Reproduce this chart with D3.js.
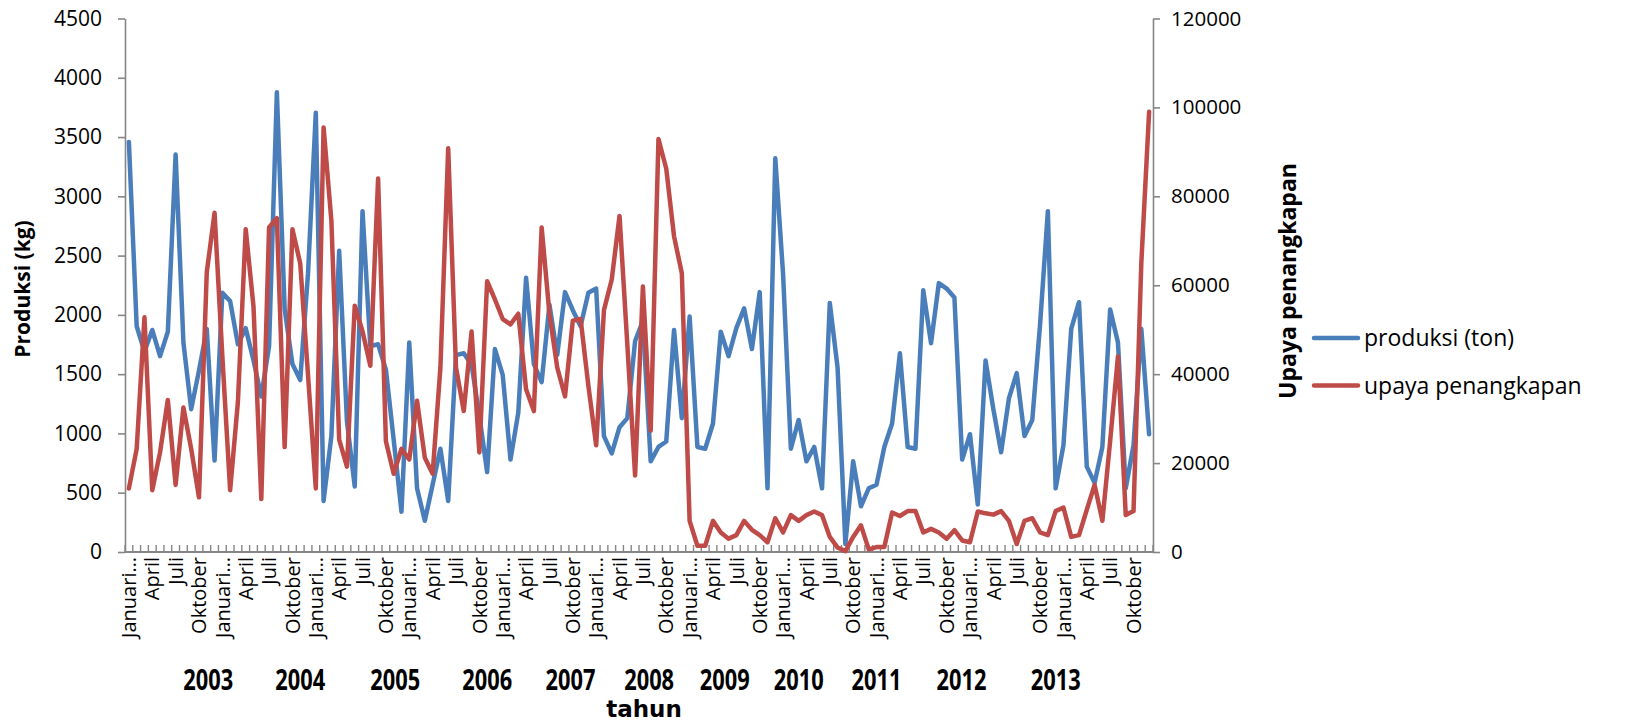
<!DOCTYPE html>
<html>
<head>
<meta charset="utf-8">
<script src="https://cdn.jsdelivr.net/npm/d3@7"></script>
<style>
  body { margin: 0; background: #fff; }
  svg { display: block; }
  text { font-family: "Open Sans", "Noto Sans", sans-serif; fill: #000; }
</style>
</head>
<body>
<svg id="chart" width="1625" height="723"></svg>
<script>
// Monthly series, January 2003 – December 2013
const years = [2003, 2004, 2005, 2006, 2007, 2008, 2009, 2010, 2011, 2012, 2013];
const quarterLabels = ["Januari…", "April", "Juli", "Oktober"];

const produksi = [
  3458, 1904, 1691, 1873, 1652, 1858, 3352, 1767, 1205, 1530, 1882, 771,
  2186, 2116, 1752, 1888, 1615, 1311, 1737, 3877, 2050, 1585, 1450, 2350,
  3705, 431, 978, 2541, 1100, 553, 2875, 1737, 1752, 1539, 947, 340,
  1767, 537, 264, 568, 871, 431, 1661, 1676, 1580, 1150, 674, 1712,
  1494, 780, 1175, 2313, 1585, 1433, 2086, 1661, 2192, 2040, 1904, 2186,
  2222, 978, 832, 1053, 1129, 1780, 1950, 765, 886, 932, 1873, 1129,
  1986, 886, 871, 1084, 1858, 1652, 1888, 2055, 1712, 2192, 537, 3321,
  2344, 871, 1114, 765, 886, 537, 2101, 1554, 67, 765, 386, 537,
  568, 886, 1084, 1676, 886, 871, 2207, 1761, 2268, 2222, 2146, 780,
  993, 401, 1615, 1205, 841, 1296, 1509, 978, 1114, 1919, 2875, 537,
  902, 1882, 2107, 720, 583, 886, 2046, 1767, 537, 902, 1882, 993
];

const upaya = [
  14300, 23200, 52800, 13900, 22400, 34200, 15100, 32500, 23200, 12300, 62900, 76300,
  44000, 13900, 33800, 72600, 55200, 11900, 73000, 75100, 23600, 72600, 64900, 39800,
  14300, 95500, 74500, 25300, 19200, 55400, 49600, 41900, 84000, 24900, 17600, 23200,
  20800, 34000, 21200, 17600, 41500, 90800, 41500, 31700, 49600, 22400, 60900, 56800,
  52400, 51200, 53600, 36600, 31700, 73000, 53600, 41500, 35000, 52000, 52400, 37400,
  24000, 54400, 61300, 75600, 46700, 17200, 59700, 27300, 92900, 86200, 71000, 62700,
  7000, 1400, 1400, 7000, 4400, 3000, 3800, 7000, 5000, 3800, 2200, 7600,
  4400, 8300, 7000, 8300, 9100, 8300, 3400, 1000, 200, 3400, 6000, 600,
  1100, 1100, 8900, 8100, 9200, 9200, 4400, 5200, 4400, 3000, 4900, 2600,
  2200, 9100, 8700, 8400, 9200, 7000, 1800, 7000, 7600, 4400, 3800, 9200,
  10000, 3400, 3800, 9500, 15100, 7000, 25000, 44000, 8300, 9200, 65000, 99000
];

const leftTicks = [0, 500, 1000, 1500, 2000, 2500, 3000, 3500, 4000, 4500];
const rightTicks = [0, 20000, 40000, 60000, 80000, 100000, 120000];

const seriesNames = ["produksi (ton)", "upaya penangkapan"];
const seriesColors = ["#4A7EBB", "#BE4B48"];

// ---- layout ----
const plot = { left: 125, right: 1153, top: 18.5, bottom: 552 };
const axisColor = "#868686";
// horizontal centre of each year caption, in month units from January 2003
const yearCaptionAt = [10.2, 22.0, 34.2, 46.0, 56.7, 66.8, 76.5, 86.0, 96.0, 106.9, 119.0];

const svg = d3.select("#chart");
const n = produksi.length;

const x = d3.scaleBand().domain(d3.range(n)).range([plot.left, plot.right]).padding(0);
const bw = x.bandwidth();
const cx = i => x(i) + bw / 2;

const yL = d3.scaleLinear().domain([0, 4500]).range([plot.bottom, plot.top]);
const yR = d3.scaleLinear().domain([0, 120000]).range([plot.bottom, plot.top]);

// ---- left value axis ----
const gL = svg.append("g")
  .attr("transform", `translate(${plot.left},0)`)
  .call(d3.axisLeft(yL).tickValues(leftTicks).tickSize(7).tickSizeOuter(0).tickPadding(16).tickFormat(d3.format("d")));
gL.select(".domain").attr("stroke", axisColor).attr("stroke-width", 1.6);
gL.selectAll(".tick line").attr("stroke", axisColor).attr("stroke-width", 1.6);
gL.selectAll(".tick text").attr("font-size", 21).attr("font-family", "Open Sans");

// ---- right value axis ----
const gR = svg.append("g")
  .attr("transform", `translate(${plot.right},0)`)
  .call(d3.axisRight(yR).tickValues(rightTicks).tickSize(7).tickSizeOuter(0).tickPadding(11).tickFormat(d3.format("d")));
gR.select(".domain").attr("stroke", axisColor).attr("stroke-width", 1.6);
gR.selectAll(".tick line").attr("stroke", axisColor).attr("stroke-width", 1.6);
gR.selectAll(".tick text").attr("font-size", 20.5).attr("font-family", "Open Sans");

// ---- category axis ----
const gX = svg.append("g");
gX.append("line")
  .attr("x1", plot.left).attr("x2", plot.right)
  .attr("y1", plot.bottom).attr("y2", plot.bottom)
  .attr("stroke", axisColor).attr("stroke-width", 1.8);

// tick marks sit between months and point up into the plot
const boundaries = d3.range(n + 1).map(i => (i < n ? x(i) : x(n - 1) + bw));
gX.selectAll("line.mt").data(boundaries).join("line")
  .attr("class", "mt")
  .attr("x1", d => d).attr("x2", d => d)
  .attr("y1", plot.bottom).attr("y2", plot.bottom - 7)
  .attr("stroke", axisColor).attr("stroke-width", 1.4);

// quarter month labels, rotated
const quarterIdx = d3.range(0, n, 3);
gX.selectAll("text.month").data(quarterIdx).join("text")
  .attr("class", "month")
  .attr("transform", i => `translate(${cx(i)},${plot.bottom + 5}) rotate(-90)`)
  .attr("text-anchor", "end")
  .attr("dy", "0.36em")
  .attr("font-size", 20)
  .text(i => quarterLabels[(i % 12) / 3]);

// year captions
gX.selectAll("text.year").data(years).join("text")
  .attr("class", "year")
  .attr("transform", (d, k) => `translate(${x(0) + (yearCaptionAt[k] + 0.5) * bw},690) scale(0.95,1.25)`)
  .attr("text-anchor", "middle")
  .attr("font-size", 23)
  .attr("font-weight", "bold")
  .attr("font-family", "Liberation Sans")
  .text(d => d);

// ---- axis titles ----
svg.append("text")
  .attr("transform", `translate(30,289) rotate(-90)`)
  .attr("text-anchor", "middle")
  .attr("font-size", 21)
  .attr("font-weight", "bold")
  .text("Produksi (kg)");

svg.append("text")
  .attr("transform", `translate(1296,281) rotate(-90)`)
  .attr("text-anchor", "middle")
  .attr("font-size", 23)
  .attr("font-weight", "bold")
  .text("Upaya penangkapan");

svg.append("text")
  .attr("x", 644).attr("y", 717)
  .attr("text-anchor", "middle")
  .attr("font-size", 23)
  .attr("font-weight", "bold")
  .style("font-family", "DejaVu Sans")
  .text("tahun");

// ---- series lines ----
const lineL = d3.line().x((d, i) => cx(i)).y(d => yL(d));
const lineR = d3.line().x((d, i) => cx(i)).y(d => yR(d));

svg.append("path").datum(produksi)
  .attr("d", lineL)
  .attr("fill", "none")
  .attr("stroke", seriesColors[0])
  .attr("stroke-width", 4.5)
  .attr("stroke-linejoin", "round")
  .attr("stroke-linecap", "round");

svg.append("path").datum(upaya)
  .attr("d", lineR)
  .attr("fill", "none")
  .attr("stroke", seriesColors[1])
  .attr("stroke-width", 4.5)
  .attr("stroke-linejoin", "round")
  .attr("stroke-linecap", "round");

// ---- legend ----
const legend = svg.append("g").attr("transform", "translate(1314,338)");
seriesNames.forEach((name, k) => {
  const row = legend.append("g").attr("transform", `translate(0,${k * 47.5})`);
  row.append("line")
    .attr("x1", 0).attr("x2", 44).attr("y1", 0).attr("y2", 0)
    .attr("stroke", seriesColors[k]).attr("stroke-width", 4.5)
    .attr("stroke-linecap", "round");
  row.append("text")
    .attr("x", 50).attr("dy", "0.35em")
    .attr("font-size", 23)
    .text(name);
});
</script>
</body>
</html>
